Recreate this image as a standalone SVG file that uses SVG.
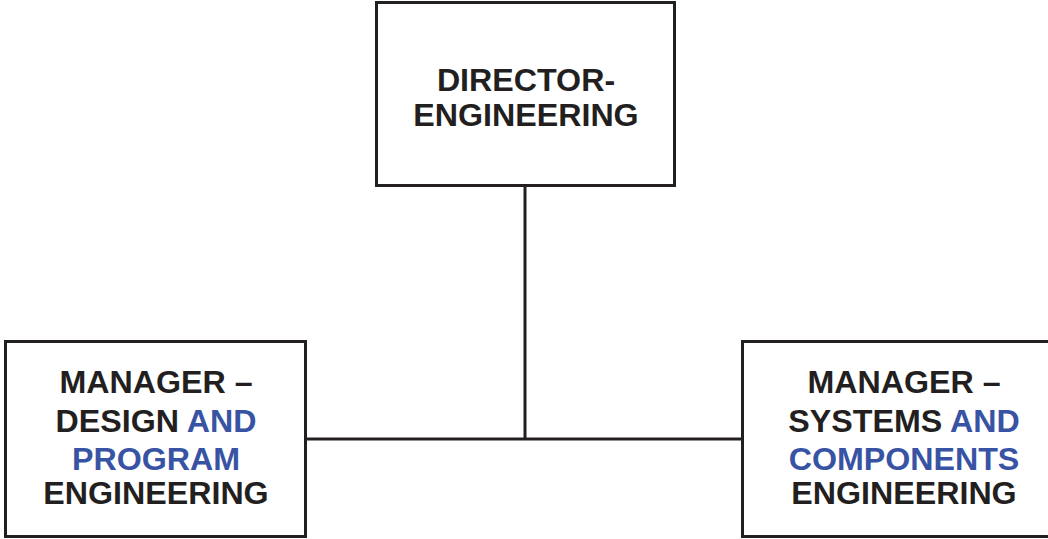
<svg xmlns="http://www.w3.org/2000/svg" width="1048" height="539" viewBox="0 0 1048 539">
<style>
.box{fill:#fff;stroke:#231f20;stroke-width:3}
.t{font-family:"Liberation Sans",Arial,sans-serif;font-weight:bold;font-size:32.2px;fill:#231f20;text-anchor:middle}
.b{fill:#3953a4}
.c{stroke:#231f20;stroke-width:3;fill:none}
</style>
<g id="connectors">
<path class="c" d="M525 186V439M305 439H742"/>
</g>
<g id="director">
<rect class="box" x="376.5" y="2.5" width="298" height="183"/>
<text class="t" x="526" y="91">DIRECTOR-</text>
<text class="t" x="526" y="126">ENGINEERING</text>
</g>
<g id="manager-design">
<rect class="box" x="5.5" y="341.5" width="300" height="195"/>
<text class="t" x="156" y="393">MANAGER –</text>
<text class="t" x="156" y="432">DESIGN <tspan class="b">AND</tspan></text>
<text class="t b" x="156" y="470">PROGRAM</text>
<text class="t" x="156" y="504">ENGINEERING</text>
</g>
<g id="manager-systems">
<rect class="box" x="742.5" y="341.5" width="310" height="195"/>
<text class="t" x="904" y="393">MANAGER –</text>
<text class="t" x="904" y="432">SYSTEMS <tspan class="b">AND</tspan></text>
<text class="t b" x="904" y="470">COMPONENTS</text>
<text class="t" x="904" y="504">ENGINEERING</text>
</g>
</svg>
